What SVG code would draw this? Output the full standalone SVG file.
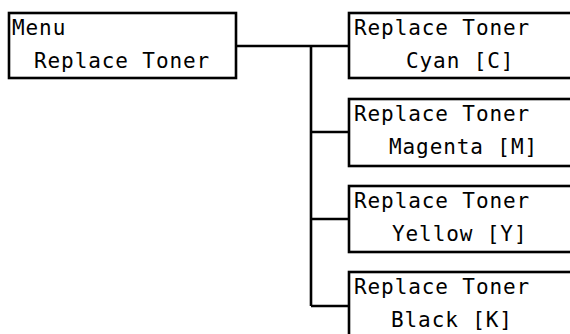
<svg xmlns="http://www.w3.org/2000/svg" width="570" height="334" viewBox="0 0 570 334">
<style>
.box{fill:#fff;stroke:#000;stroke-width:2.6}
.ln{fill:none;stroke:#000;stroke-width:2.6}
text{font-family:"DejaVu Sans Mono","Liberation Mono",monospace;font-size:21px;fill:#000;letter-spacing:0.9px}
</style>
<rect width="570" height="334" fill="#fff"/>
<g id="connectors">
<path class="ln" d="M236 46H349M311 46V306M311 132H349M311 219H349M311 306H349"/>
</g>
<g id="menu">
<rect class="box" x="9" y="13" width="227" height="65"/>
<text x="12" y="35">Menu</text>
<text x="34" y="68">Replace Toner</text>
</g>
<g id="cyan">
<rect class="box" x="349" y="13" width="240" height="65"/>
<text x="354" y="35">Replace Toner</text>
<text x="406" y="68">Cyan [C]</text>
</g>
<g id="magenta">
<rect class="box" x="349" y="99" width="240" height="67"/>
<text x="354" y="121">Replace Toner</text>
<text x="389" y="154">Magenta [M]</text>
</g>
<g id="yellow">
<rect class="box" x="349" y="186" width="240" height="66"/>
<text x="354" y="208">Replace Toner</text>
<text x="392" y="241">Yellow [Y]</text>
</g>
<g id="black">
<rect class="box" x="349" y="272" width="240" height="66"/>
<text x="354" y="294">Replace Toner</text>
<text x="391" y="327">Black [K]</text>
</g>
</svg>
